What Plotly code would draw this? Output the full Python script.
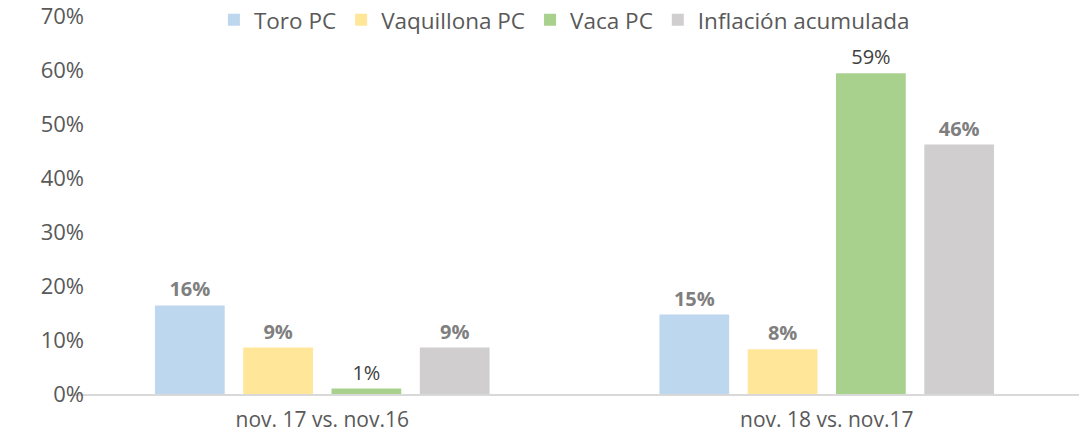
import plotly.graph_objects as go

categories = ["nov. 17 vs. nov.16", "nov. 18 vs. nov.17"]
series_names = ["Toro PC", "Vaquillona PC", "Vaca PC", "Inflación acumulada"]
toro = [0.164, 0.147]
vaquillona = [0.086, 0.083]
vaca = [0.010, 0.594]
inflacion = [0.086, 0.462]
y_ticks = [0, 0.1, 0.2, 0.3, 0.4, 0.5, 0.6, 0.7]
y_tick_labels = ["0%", "10%", "20%", "30%", "40%", "50%", "60%", "70%"]

colors = ["#BDD7EE", "#FFE699", "#A9D18E", "#D0CECE"]
FONT = "Open Sans"

fig = go.Figure()
for name, vals, col in zip(series_names, [toro, vaquillona, vaca, inflacion], colors):
    texts = []
    tcolors = []
    for v in vals:
        lab = f"{round(v*100):.0f}%"
        if name == "Vaca PC":
            texts.append(lab)
            tcolors.append("#404040")
        else:
            texts.append(f"<b>{lab}</b>")
            tcolors.append("#7F7F7F")
    fig.add_trace(go.Bar(
        x=categories, y=vals, name=name,
        marker=dict(color=col, line=dict(width=0)),
        text=texts, textposition="outside",
        textfont=dict(family=FONT, size=20, color=tcolors),
        cliponaxis=False,
    ))

fig.update_layout(
    width=1079, height=432,
    margin=dict(l=70, r=0, t=16, b=38, autoexpand=False),
    paper_bgcolor="white", plot_bgcolor="white",
    barmode="group", bargap=0.30, bargroupgap=0.21,
    font=dict(family=FONT, size=20, color="#595959"),
    showlegend=True,
    legend=dict(orientation="h", x=0.49, xanchor="center", y=0.989, yanchor="middle",
                font=dict(family=FONT, size=22.5, color="#595959"),
                itemwidth=30, traceorder="normal", bgcolor="rgba(0,0,0,0)"),
    xaxis=dict(showline=True, linecolor="#D9D9D9", linewidth=1.5, ticks="",
               ticklabelstandoff=6,
               tickfont=dict(family=FONT, size=21, color="#595959")),
    yaxis=dict(range=[0, 0.7], tickvals=y_ticks, ticktext=y_tick_labels,
               showgrid=False, zeroline=False, showline=False, ticks="",
               ticklabelstandoff=-15, ticklabeloverflow="allow",
               tickfont=dict(family=FONT, size=22, color="#595959")),
)
fig.write_html("out.html", config={"displayModeBar": False},
               post_script="document.body.style.margin='0';")
